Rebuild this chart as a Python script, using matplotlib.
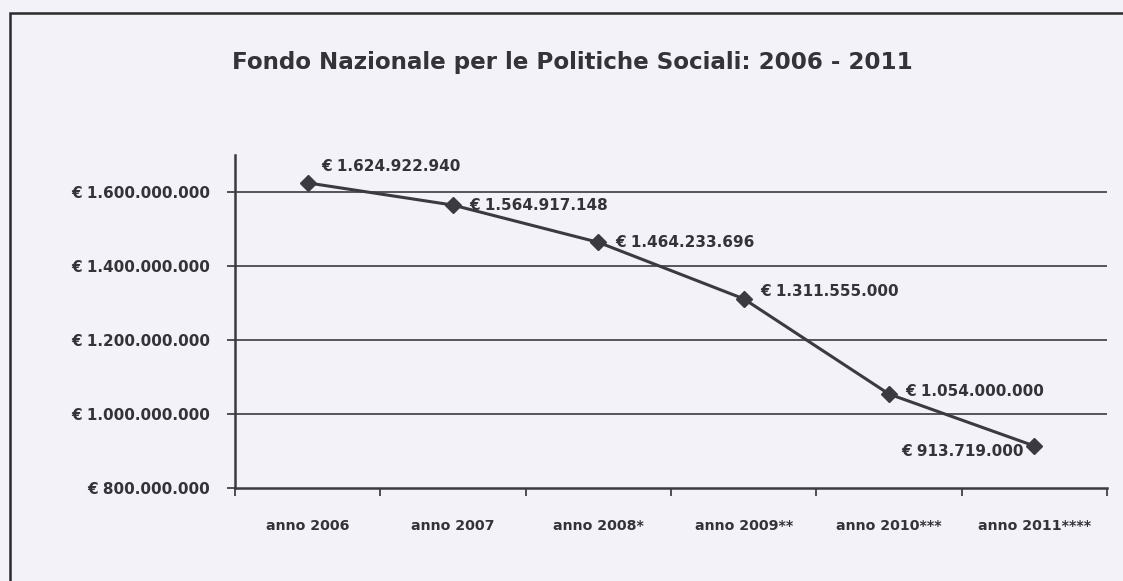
import matplotlib
matplotlib.use("Agg")
import matplotlib.pyplot as plt
from matplotlib.patches import Rectangle
from matplotlib.ticker import FuncFormatter

categories = ["anno 2006", "anno 2007", "anno 2008*", "anno 2009**", "anno 2010***", "anno 2011****"]
values = [1624922940, 1564917148, 1464233696, 1311555000, 1054000000, 913719000]
yticks = [800000000, 1000000000, 1200000000, 1400000000, 1600000000]
title = "Fondo Nazionale per le Politiche Sociali: 2006 - 2011"

def euro(v):
    s = f"{int(round(v)):,}".replace(",", ".")
    return "€ " + s

bg = "#f3f2f8"
ink = "#333338"

plt.rcParams['font.family'] = ['DejaVu Sans']
fig = plt.figure(figsize=(11.23, 5.81), dpi=100, facecolor=bg)
ax = fig.add_axes([0.2093, 0.160, 0.7765, 0.573])
ax.set_facecolor(bg)

x = list(range(len(categories)))
ax.plot(x, values, color="#3a3a40", lw=2.2, marker="D", markersize=8, zorder=3)

ax.set_xlim(-0.5, len(categories) - 0.5)
ax.set_ylim(8e8, 1.7e9)
ax.set_yticks(yticks)
ax.yaxis.set_major_formatter(FuncFormatter(lambda v, p: euro(v)))
ax.set_xticks(x)
ax.set_xticklabels(categories)
ax.set_xticks([i - 0.5 for i in range(len(categories) + 1)], minor=True)
ax.tick_params(axis="x", which="major", length=0, pad=22, labelsize=10.2, colors=ink)
ax.tick_params(axis="x", which="minor", length=6, direction="out", color=ink, width=1.2)
ax.tick_params(axis="y", length=6, direction="out", pad=12, labelsize=11, colors=ink, width=1.2)
for lab in ax.get_xticklabels() + ax.get_yticklabels():
    lab.set_fontweight("bold")

for g in yticks[1:]:
    ax.axhline(g, color="#3a3a40", lw=1.2, zorder=1)

for s in ["top", "right"]:
    ax.spines[s].set_visible(False)
for s in ["left", "bottom"]:
    ax.spines[s].set_color("#3a3a40")
    ax.spines[s].set_linewidth(1.8)

offsets = [(10, 12), (12, 0), (12, 0), (12, 5), (12, 2), (-8, -4)]
aligns = ["left", "left", "left", "left", "left", "right"]
for xi, v, off, ha in zip(x, values, offsets, aligns):
    ax.annotate(euro(v), (xi, v), xytext=off, textcoords="offset points",
                ha=ha, va="center", fontsize=11, fontweight="bold", color=ink)

fig.text(0.510, 0.893, title, ha="center", va="center", fontsize=16.6, fontweight="bold", color=ink)

fig.patches.append(Rectangle((0.009, -0.1), 1.2, 1.078, transform=fig.transFigure,
                             fill=False, edgecolor="#2a2a2a", lw=1.8))

fig.savefig("out.png", dpi=100, facecolor=bg)
